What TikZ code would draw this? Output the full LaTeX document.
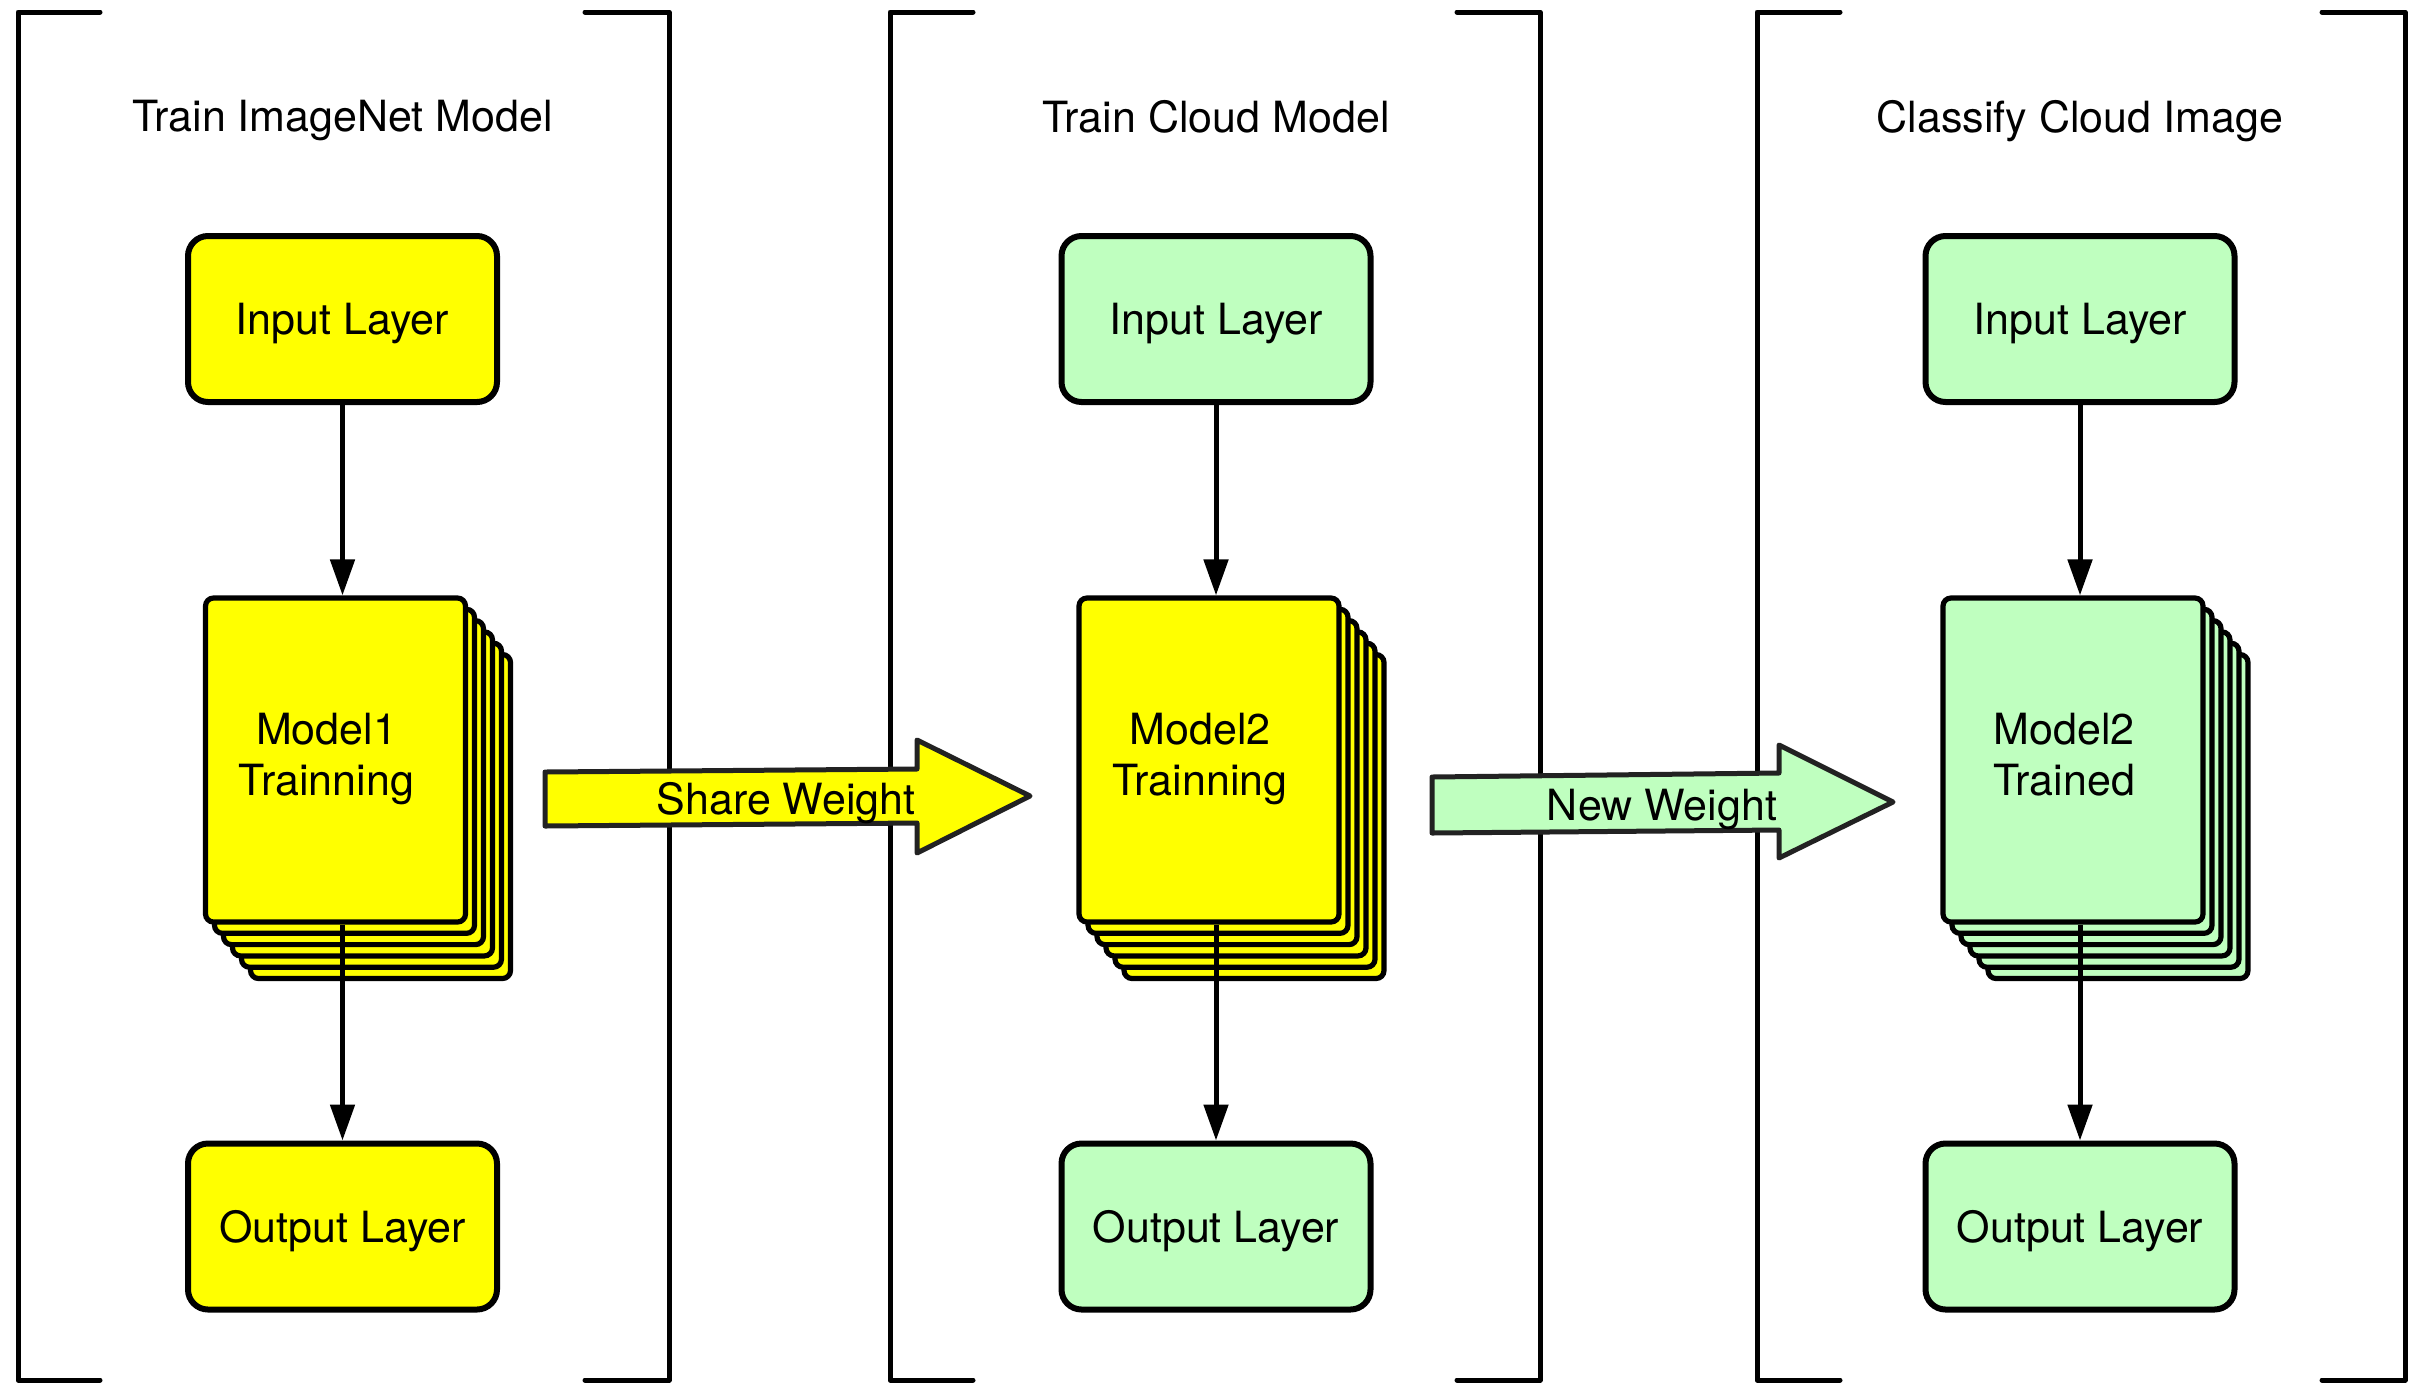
\documentclass[tikz,border=0pt]{standalone}
\usepackage{fontspec}
\setmainfont{TeX Gyre Heros}
\usetikzlibrary{arrows.meta}
\definecolor{hiyellow}{HTML}{FFFF00}
\definecolor{mint}{HTML}{BFFFBF}
\definecolor{edgegray}{HTML}{222222}

% one stack of pages: #1 name, #2 centre x, #3 fill, #4 label
\newcommand\pagestack[4]{%
  \foreach \k in {5,4,3,2,1}{
    \node[page, fill=#3] (#1-back\k) at ({#2-7+9*\k},{760+11.3*\k}) {};
  }
  \node[page, fill=#3] (#1) at ({#2-7},760) {};
  \node[lbl, align=center] (#1-label) at ({#2-16},754) {#4};
}

\begin{document}
\begin{tikzpicture}[x=0.5pt,y=-0.5pt,
  lbl/.style={font=\fontsize{21.5}{25.5}\selectfont, text=black, text depth=0pt},
  layerbox/.style={draw=black, line width=3pt, rounded corners=10pt,
    minimum width=154.5pt, minimum height=83pt, lbl, align=center},
  page/.style={draw=black, line width=2.6pt, rounded corners=4pt,
    minimum width=130pt, minimum height=162pt},
  bracket/.style={line width=2.5pt, line cap=round, line join=round},
  flow/.style={line width=2.5pt, -{Triangle[length=18pt,width=12pt]}},
  bigarrow/.style={draw=edgegray, line width=2.5pt, line join=round},
]
\useasboundingbox (0,0) rectangle (2419,1383);

% section brackets
\draw[bracket] (100,12) -- (18,12) -- (18,1380) -- (100,1380);
\draw[bracket] (585,12) -- (669,12) -- (669,1380) -- (585,1380);
\draw[bracket] (973,12) -- (890,12) -- (890,1380) -- (973,1380);
\draw[bracket] (1457,12) -- (1540,12) -- (1540,1380) -- (1457,1380);
\draw[bracket] (1840,12) -- (1757,12) -- (1757,1380) -- (1840,1380);
\draw[bracket] (2322,12) -- (2405,12) -- (2405,1380) -- (2322,1380);

% section titles
\node[lbl] (t1) at (342.5,116) {Train ImageNet Model};
\node[lbl] (t2) at (1216,116) {Train Cloud Model};
\node[lbl] (t3) at (2080,116) {Classify Cloud Image};

% input and output layers
\node[layerbox, fill=hiyellow] (in1) at (342.5,319) {Input Layer};
\node[layerbox, fill=mint] (in2) at (1216,319) {Input Layer};
\node[layerbox, fill=mint] (in3) at (2080,319) {Input Layer};
\node[layerbox, fill=hiyellow] (out1) at (342.5,1226.5) {Output Layer};
\node[layerbox, fill=mint] (out2) at (1216,1226.5) {Output Layer};
\node[layerbox, fill=mint] (out3) at (2080,1226.5) {Output Layer};

% model stacks
\pagestack{m1}{342.5}{hiyellow}{Model1\\Trainning}
\pagestack{m2}{1216}{hiyellow}{Model2\\Trainning}
\pagestack{m3}{2080}{mint}{Model2\\Trained}

% data flow inside each section
\foreach \s in {1,2,3}{
  \draw[flow] (in\s.south) -- (in\s.south |- m\s.north);
  \draw[flow] (m\s.south -| out\s.north) -- (out\s.north);
}

% weight transfer arrows
\draw[bigarrow, fill=hiyellow] (545,772) -- (917,769) -- (917,740) -- (1030,796)
  -- (917,853) -- (917,823) -- (545,826) -- cycle;
\node[lbl] (share) at (786,798) {Share Weight};
\draw[bigarrow, fill=mint] (1432,777) -- (1779,773) -- (1779,745) -- (1893,802)
  -- (1779,858) -- (1779,830) -- (1432,833) -- cycle;
\node[lbl] (neww) at (1662,805) {New Weight};
\end{tikzpicture}
\end{document}
